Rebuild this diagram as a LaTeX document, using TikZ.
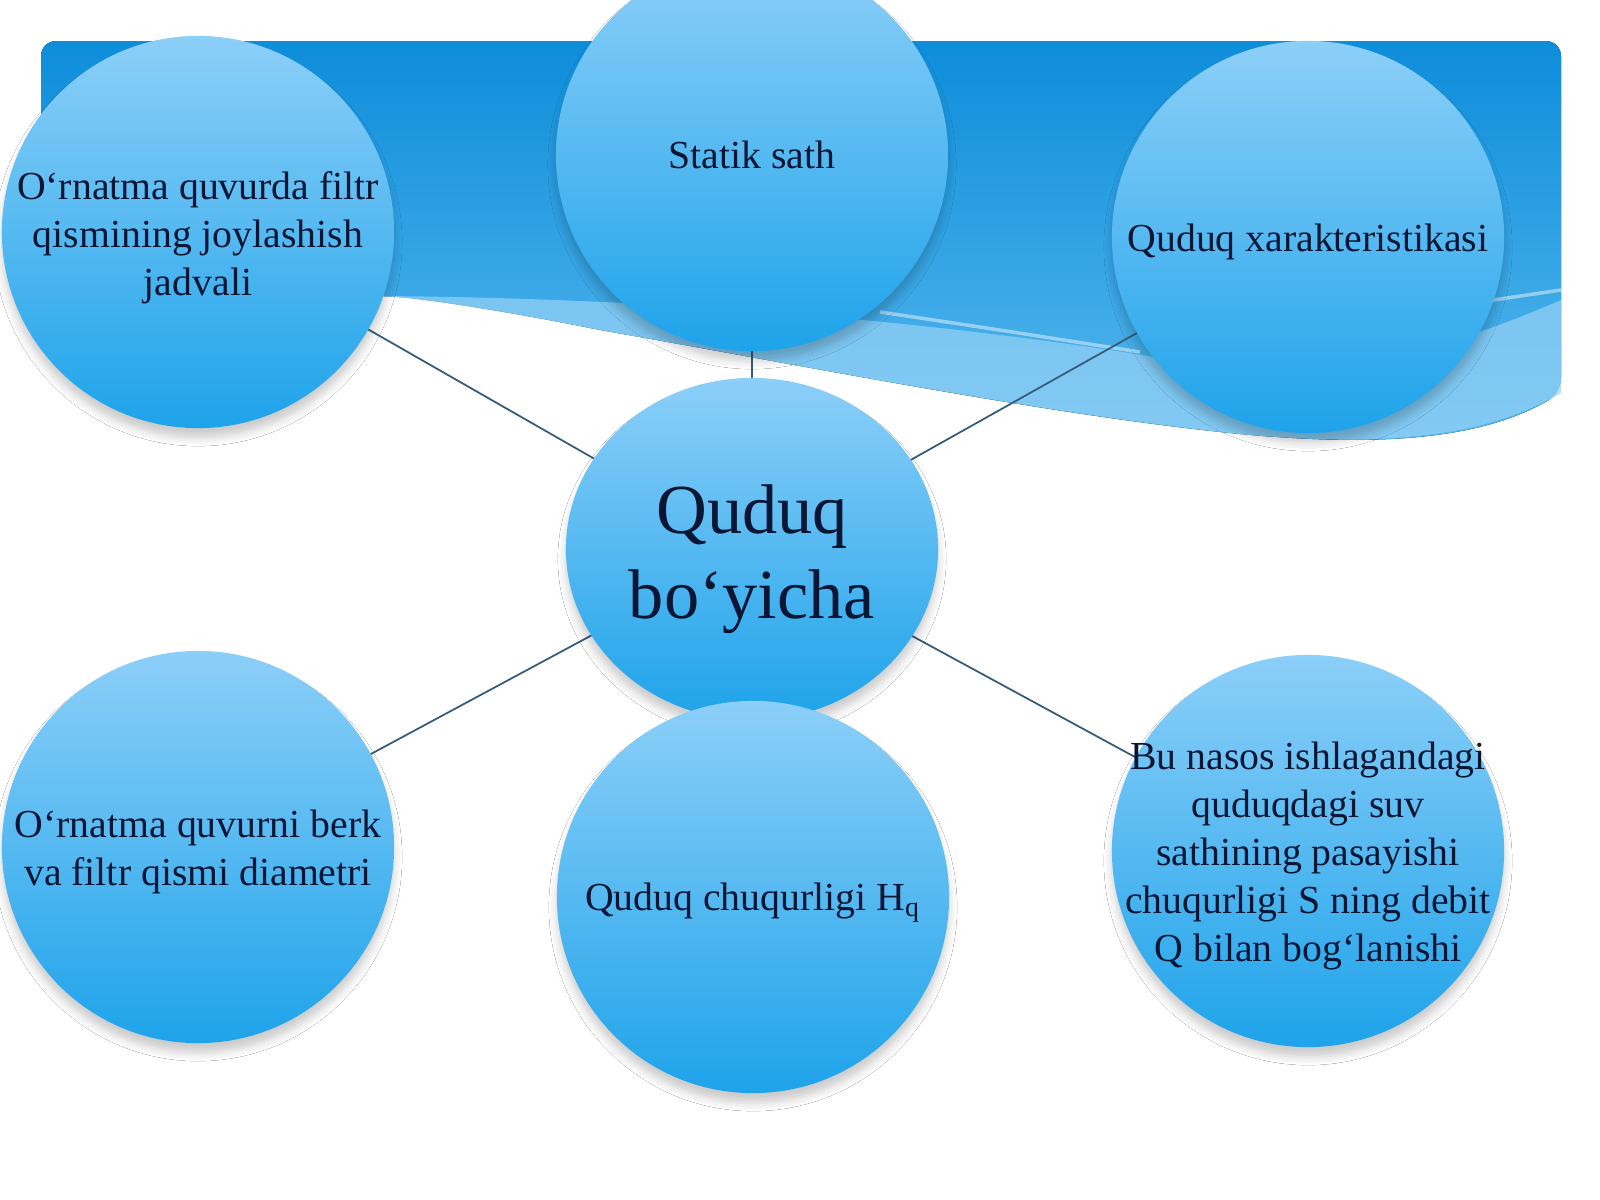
\documentclass[tikz,border=0pt]{standalone}
\usepackage{fontspec}
\setmainfont{Liberation Serif}
\usetikzlibrary{shapes.geometric,shadows.blur}
\definecolor{bannertop}{RGB}{14,141,218}
\definecolor{bannerbot}{RGB}{86,184,238}
\definecolor{bandblue}{RGB}{150,210,246}
\definecolor{bubbletop}{RGB}{140,207,248}
\definecolor{bubblebot}{RGB}{30,163,234}
\definecolor{inktext}{RGB}{10,22,52}
\definecolor{linkline}{RGB}{52,92,122}
\tikzset{
    bubble/.style={circle, minimum size=3.92cm, inner sep=0pt, top color=bubbletop, bottom color=bubblebot,
        blur shadow={shadow xshift=0pt, shadow yshift=-1mm, shadow blur radius=0.8mm, shadow opacity=20}},
    bubbletext/.style={align=center, text=inktext, yshift=-1.5pt, font=\fontsize{11.3}{13.65}\selectfont},
    hubtext/.style={align=center, text=inktext, yshift=-3pt, font=\fontsize{20}{24.2}\selectfont},
    link/.style={draw=linkline, line width=0.5pt}
}
\begin{document}
\begin{tikzpicture}[x=0.01cm, y=-0.01cm]
    \useasboundingbox (0,0) rectangle (1600,1200);
    \fill[white] (0,0) rectangle (1600,1200);
    \coordinate (hubpos) at (752,549);
    \coordinate (tlpos) at (198,232);
    \coordinate (tcpos) at (752,155);
    \coordinate (trpos) at (1308,237);
    \coordinate (blpos) at (198,847);
    \coordinate (bcpos) at (753,897);
    \coordinate (brpos) at (1308,851);
    \fill[top color=bannertop, bottom color=bannerbot, rounded corners=1.5mm] (41,300) -- (41,41) -- (1561,41) -- (1561,393)
        .. controls (1480,440) and (1380,445) .. (1250,435)
        .. controls (1050,415) and (800,365) .. (600,330)
        .. controls (500,310) and (420,298) .. (380,296)
        .. controls (250,290) and (120,292) .. (41,300) -- cycle;
    \fill[bandblue, opacity=0.7] (380,296) .. controls (650,298) and (950,320) .. (1200,365)
        .. controls (1350,385) and (1480,335) .. (1561,300) -- (1561,393)
        .. controls (1480,440) and (1380,445) .. (1250,435)
        .. controls (1050,415) and (800,365) .. (600,330)
        .. controls (500,310) and (420,298) .. (380,296) -- cycle;
    \draw[white, opacity=0.45, line width=1pt] (880,312) .. controls (1000,330) .. (1140,352);
    \draw[white, opacity=0.45, line width=1pt] (1480,302) -- (1561,290);
    \draw[link] (hubpos) -- (tlpos);
    \draw[link] (hubpos) -- (tcpos);
    \draw[link] (hubpos) -- (trpos);
    \draw[link] (hubpos) -- (blpos);
    \draw[link] (hubpos) -- (brpos);
    \node[bubble] (tl) at (tlpos) {};
    \node[bubbletext] (tllabel) at (tl) {O‘rnatma quvurda filtr\\qismining joylashish\\jadvali};
    \node[bubble] (tc) at (tcpos) {};
    \node[bubbletext, yshift=1.5pt] (tclabel) at (tc) {Statik sath};
    \node[bubble] (tr) at (trpos) {};
    \node[bubbletext] (trlabel) at (tr) {Quduq xarakteristikasi};
    \node[bubble] (bl) at (blpos) {};
    \node[bubbletext] (bllabel) at (bl) {O‘rnatma quvurni berk\\va filtr qismi diametri};
    \node[bubble, ellipse, minimum width=3.72cm, minimum height=3.42cm] (hub) at (hubpos) {};
    \node[hubtext] (hublabel) at (hub) {Quduq\\bo‘yicha};
    \node[bubble] (bc) at (bcpos) {};
    \node[bubbletext] (bclabel) at (bc) {Quduq chuqurligi H\textsubscript{q}};
    \node[bubble] (br) at (brpos) {};
    \node[bubbletext] (brlabel) at (br) {Bu nasos ishlagandagi\\quduqdagi suv\\sathining pasayishi\\chuqurligi S ning debit\\Q bilan bog‘lanishi};
\end{tikzpicture}
\end{document}
